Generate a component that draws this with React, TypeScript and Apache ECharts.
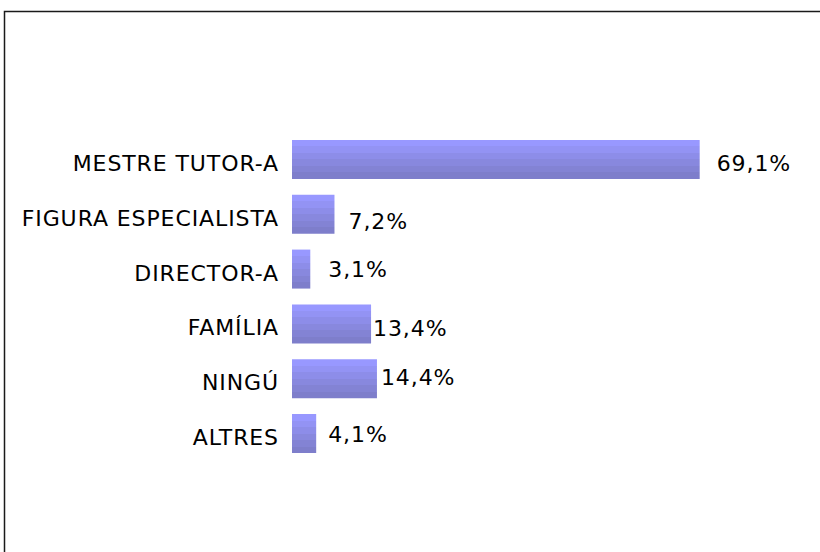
import React, { useEffect, useRef } from "react";
import * as echarts from "echarts";

const categories = [
  "MESTRE TUTOR-A",
  "FIGURA ESPECIALISTA",
  "DIRECTOR-A",
  "FAMÍLIA",
  "NINGÚ",
  "ALTRES",
];
const values = [69.1, 7.2, 3.1, 13.4, 14.4, 4.1];

// label placement tweaks (style only)
const labelGap = [17, 14, 18, 2, 4, 12];
const labelShiftY = [4, 7, 0, 5, -1, 1];

// banded gradient colours, top to bottom
const bandColors = ["#9898ff", "#9393f4", "#8d8de9", "#8888de", "#8383d4", "#7e7ecb"];

const FONT = "DejaVu Sans";
const FS = 22;

export default function App() {
  const ref = useRef<HTMLDivElement>(null);
  useEffect(() => {
    if (!ref.current) return;
    const chart = echarts.init(ref.current, null, { renderer: "svg" });
    const n = bandColors.length;
    const stops: { offset: number; color: string }[] = [];
    bandColors.forEach((c, i) => {
      stops.push({ offset: i / n, color: c });
      stops.push({ offset: (i + 1) / n - 0.0001, color: c });
    });
    chart.setOption({
      animation: false,
      backgroundColor: "#ffffff",
      graphic: [
        {
          type: "rect",
          shape: { x: 4.5, y: 11.5, width: 1000, height: 800 },
          style: { fill: "none", stroke: "#1a1a1a", lineWidth: 1.5 },
          silent: true,
        },
      ],
      grid: { left: 292, top: 132, width: 472, height: 329 },
      xAxis: {
        type: "value",
        min: 0,
        max: 80,
        show: false,
      },
      yAxis: {
        type: "category",
        inverse: true,
        data: categories,
        axisLine: { show: false },
        axisTick: { show: false },
        splitLine: { show: false },
        axisLabel: {
          margin: 13,
          formatter: (v: string) => "{a|" + v + "}",
          rich: {
            a: {
              color: "#000",
              fontFamily: FONT,
              fontSize: FS,
              padding: [8, 0, 0, 0],
            },
          },
        },
      },
      series: [
        {
          type: "bar",
          barWidth: 39,
          data: values.map((v, i) => ({
            value: v,
            label: {
              distance: labelGap[i],
              offset: [0, labelShiftY[i]],
            },
          })),
          itemStyle: {
            color: new echarts.graphic.LinearGradient(0, 0, 0, 1, stops),
          },
          label: {
            show: true,
            position: "right",
            color: "#000",
            fontFamily: FONT,
            fontSize: FS,
            formatter: (p: any) => p.value.toFixed(1).replace(".", ",") + "%",
          },
        },
      ],
    });
    return () => chart.dispose();
  }, []);
  return (
    <>
      <style>{"#chart svg text { letter-spacing: 0.9px; }"}</style>
      <div
        id="chart"
        ref={ref}
        style={{ position: "fixed", left: 0, top: 0, width: 820, height: 552 }}
      />
    </>
  );
}
